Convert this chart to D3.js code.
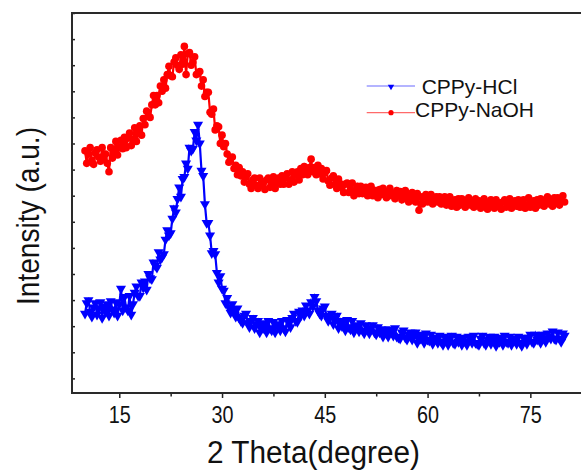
<!DOCTYPE html>
<html>
<head>
<meta charset="utf-8">
<script src="https://cdn.jsdelivr.net/npm/d3@7"></script>
<style>
  body { margin: 0; background: #fff; }
  svg { display: block; font-family: "Liberation Sans", Arial, sans-serif; }
</style>
</head>
<body>
<div id="viz"></div>
<script>
// scan angle grid, 2theta from 10 to 80 in 0.25 degree steps
var twoTheta = d3.range(10, 80.001, 0.25);

// CPPy-HCl counts (a.u.) - 10 values per row
var hclCounts = [
  112,122,125,114,109,118,122,111,117,123,
  108,119,114,121,110,124,116,113,123,110,
  121,136,115,128,118,115,129,111,121,132,
  138,129,129,142,137,143,135,150,146,145,
  161,158,156,171,164,166,169,183,192,187,
  189,203,213,209,222,233,224,241,243,256,
  251,271,268,270,286,278,293,275,249,244,
  217,199,199,187,170,172,169,151,142,148,
  136,134,122,127,118,113,121,115,109,117,
  108,105,103,110,112,103,99,105,108,98,
  102,105,94,102,98,103,94,105,98,96,
  104,94,102,100,96,105,98,95,106,105,
  99,108,112,105,104,114,110,115,110,120,
  115,112,123,119,128,124,115,112,110,117,
  119,109,105,110,112,102,107,110,98,105,
  100,105,96,106,99,97,105,94,101,99,
  95,103,96,93,101,98,93,98,101,94,
  92,99,94,97,90,97,93,90,97,94,
  91,98,90,89,88,94,96,89,87,92,
  94,87,91,94,84,91,88,92,84,93,
  87,86,92,83,89,87,84,91,85,82,
  90,87,82,88,91,84,83,90,85,88,
  82,89,85,82,90,87,84,91,84,83,
  82,88,91,84,82,87,90,83,87,90,
  81,88,85,89,82,91,85,84,90,82,
  88,86,83,90,84,81,89,87,83,89,
  92,85,84,92,87,90,84,92,88,85,
  93,90,88,95,88,87,94,88,85,93,
  91
];

// CPPy-NaOH counts (a.u.)
var naohCounts = [
  268,256,265,271,259,255,266,269,262,258,
  271,261,265,256,248,271,261,267,277,264,
  271,278,270,281,271,280,285,273,279,290,
  277,287,292,283,299,293,306,301,300,312,
  321,312,321,314,330,325,336,328,341,349,
  340,339,353,357,350,346,360,351,368,341,
  361,362,350,353,358,341,342,344,330,336,
  320,324,324,305,303,308,288,292,291,275,
  283,272,275,265,257,261,262,251,254,245,
  252,244,248,238,243,246,236,232,240,242,
  235,232,242,235,238,231,240,242,233,237,
  243,232,237,242,236,244,236,242,246,236,
  240,248,238,245,248,240,251,245,253,248,
  245,252,260,248,252,245,254,246,251,241,
  247,249,239,235,242,244,236,232,241,233,
  236,228,236,237,228,231,237,225,229,234,
  227,234,227,231,233,225,228,234,225,230,
  230,223,231,226,232,227,223,229,232,225,
  227,222,230,225,229,221,226,230,223,219,
  226,228,223,219,227,211,224,217,224,226,
  219,222,226,217,220,224,219,224,217,222,
  224,216,219,224,215,220,221,214,222,216,
  222,217,214,220,223,216,219,214,222,217,
  220,213,218,222,215,212,219,221,216,213,
  221,215,218,212,219,221,214,217,222,213,
  216,220,215,221,214,219,221,213,216,223,
  214,219,220,213,221,216,222,217,215,221,
  224,217,220,215,223,219,223,216,221,225,
  219
];

var seriesNames = ['CPPy-HCl', 'CPPy-NaOH'];
var seriesColors = ['#0000ff', '#ff0000'];

// axis ticks
var xMajorTicks = [15, 30, 45, 60, 75];
var xMinorTicks = [22.5, 37.5, 52.5, 67.5];
var yTicks = [50, 75, 100, 125, 150, 175, 200, 225, 250, 275, 300, 325, 350, 375, 400];

var W = 581, H = 470;
// plot box (right side runs past the picture edge, like the original)
var plotL = 72, plotT = 13, plotB = 393, plotR = 592;

var svg = d3
.select('#viz')
.append('svg')
.attr('width', W)
.attr('height', H)
;

var x = d3.scaleLinear().domain([8.1, 84]).range([plotL, plotR]);
var y = d3.scaleLinear().domain([36, 400]).range([plotB, plotT]);

// x axis - major ticks with labels, outward
var xAxis = svg
.append('g')
.attr('transform', 'translate(0,' + plotB + ')')
.call(d3.axisBottom(x).tickValues(xMajorTicks).tickSize(5).tickFormat(d3.format('d')))
;
xAxis.select('.domain').remove();
xAxis.selectAll('line').attr('stroke', '#222').attr('stroke-width', 1.5);
xAxis.selectAll('text')
.attr('y', 30)
.attr('dy', 0)
.attr('fill', '#111')
.attr('font-size', '24px')
.attr('font-family', '"Liberation Sans", Arial, sans-serif')
.attr('textLength', 22)
.attr('lengthAdjust', 'spacingAndGlyphs')
;

// minor ticks
var xMinor = svg
.append('g')
.attr('transform', 'translate(0,' + plotB + ')')
.call(d3.axisBottom(x).tickValues(xMinorTicks).tickSize(3.5).tickFormat(''))
;
xMinor.select('.domain').remove();
xMinor.selectAll('line').attr('stroke', '#222').attr('stroke-width', 1.5);

// y axis - ticks point inward, no labels
var yAxis = svg
.append('g')
.attr('transform', 'translate(' + plotL + ',0)')
.call(d3.axisRight(y).tickValues(yTicks).tickSize(3).tickFormat(''))
;
yAxis.select('.domain').remove();
yAxis.selectAll('line').attr('stroke', '#222').attr('stroke-width', 1.5);

// frame: left, bottom, top
svg.append('path')
.attr('d', 'M' + plotR + ',' + plotT + 'H' + plotL + 'V' + plotB + 'H' + plotR)
.attr('fill', 'none')
.attr('stroke', '#2a2a2a')
.attr('stroke-width', 2)
;

// series
var line = d3.line()
.x(function(d){ return x(d[0]); })
.y(function(d){ return y(d[1]); })
;

var hclData = twoTheta.map(function(t, i){ return [t, hclCounts[i]]; });
var naohData = twoTheta.map(function(t, i){ return [t, naohCounts[i]]; });

var tri = d3.symbol().type(d3.symbolTriangle).size(44);

// HCl: line + down triangles
svg.append('path')
.datum(hclData)
.attr('d', line)
.attr('fill', 'none')
.attr('stroke', seriesColors[0])
.attr('stroke-width', 2.2)
;
svg.append('g')
.selectAll('path')
.data(hclData)
.enter()
.append('path')
.attr('d', tri)
.attr('transform', function(d){ return 'translate(' + x(d[0]) + ',' + y(d[1]) + ') rotate(180)'; })
.attr('fill', seriesColors[0])
;

// NaOH: line + dots
svg.append('path')
.datum(naohData)
.attr('d', line)
.attr('fill', 'none')
.attr('stroke', seriesColors[1])
.attr('stroke-width', 2.2)
;
svg.append('g')
.selectAll('circle')
.data(naohData)
.enter()
.append('circle')
.attr('cx', function(d){ return x(d[0]); })
.attr('cy', function(d){ return y(d[1]); })
.attr('r', 3.8)
.attr('fill', seriesColors[1])
;

// legend
var leg = svg.append('g');
leg.append('line')
.attr('x1', 366.7).attr('x2', 415).attr('y1', 86).attr('y2', 86)
.attr('stroke', '#6a6aff').attr('stroke-width', 1.2)
;
leg.append('path')
.attr('d', d3.symbol().type(d3.symbolTriangle).size(18))
.attr('transform', 'translate(391,86.5) rotate(180)')
.attr('fill', seriesColors[0])
;
leg.append('text')
.text(seriesNames[0])
.attr('x', 421.7)
.attr('y', 94)
.attr('font-size', '21px')
.attr('fill', '#111')
;
leg.append('line')
.attr('x1', 366.7).attr('x2', 415).attr('y1', 112.7).attr('y2', 112.7)
.attr('stroke', '#ff6a6a').attr('stroke-width', 1.2)
;
leg.append('circle')
.attr('cx', 391).attr('cy', 112.7).attr('r', 2.6)
.attr('fill', seriesColors[1])
;
leg.append('text')
.text(seriesNames[1])
.attr('x', 415)
.attr('y', 117.3)
.attr('font-size', '21px')
.attr('fill', '#111')
;

// axis titles
svg.append('text')
.text('2 Theta(degree)')
.attr('x', 207)
.attr('y', 463)
.attr('font-size', '31px')
.attr('fill', '#111')
.attr('textLength', 213)
.attr('lengthAdjust', 'spacingAndGlyphs')
;

svg.append('text')
.text('Intensity (a.u.)')
.attr('transform', 'translate(39,305) rotate(-90)')
.attr('font-size', '32px')
.attr('fill', '#111')
.attr('textLength', 178)
.attr('lengthAdjust', 'spacingAndGlyphs')
;
</script>
</body>
</html>
